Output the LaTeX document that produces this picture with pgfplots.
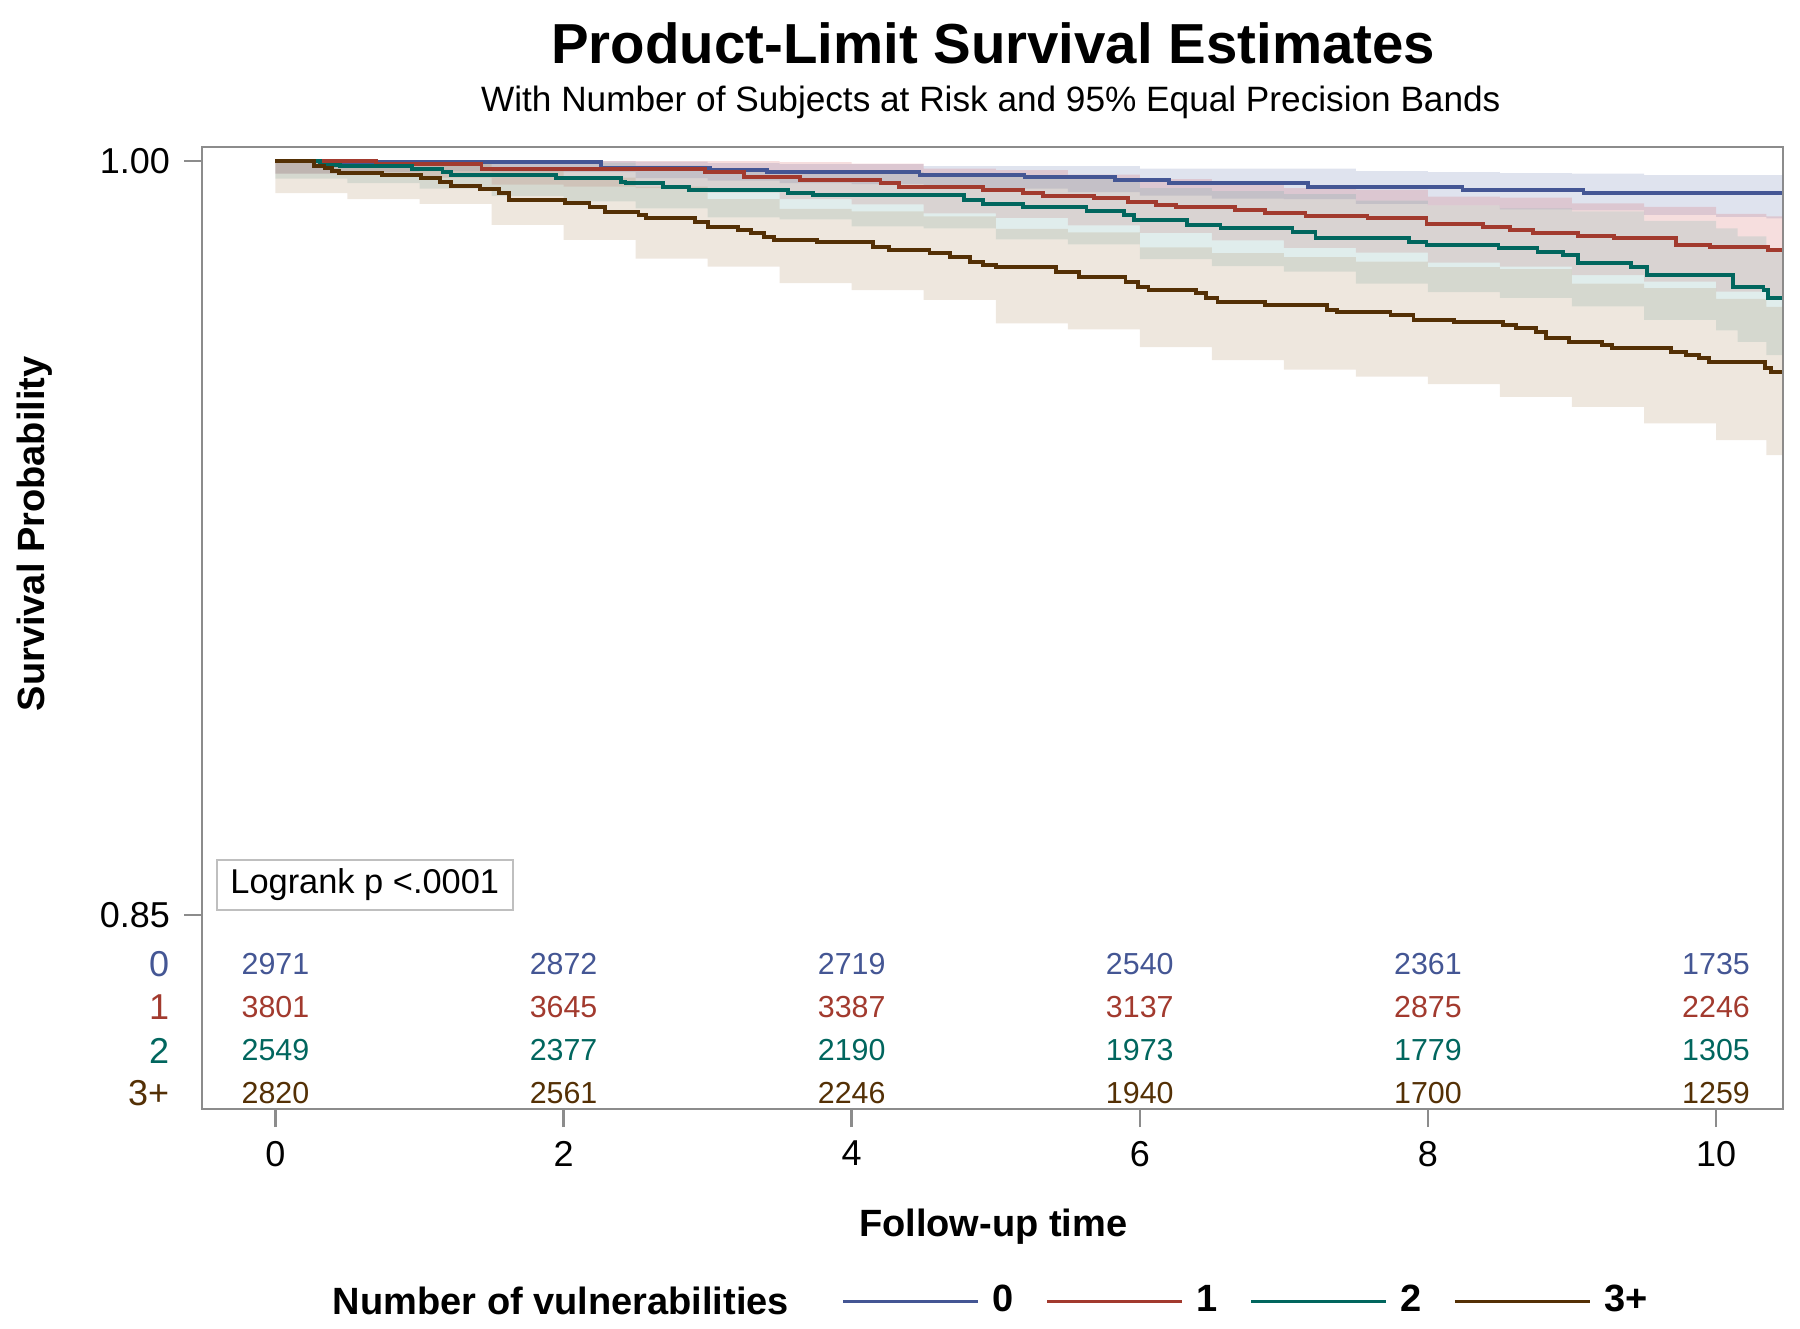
\documentclass[border=0pt]{standalone}
\usepackage{fontspec}
\setmainfont{Liberation Sans}
\usepackage{pgfplots}
\pgfplotsset{compat=1.18}
\usepackage{pgfplotstable}
\usepgfplotslibrary{fillbetween}

\definecolor{cB}{HTML}{445694}
\definecolor{cR}{HTML}{A23A2E}
\definecolor{cG}{HTML}{01665E}
\definecolor{cN}{HTML}{543005}
\definecolor{fB}{HTML}{6F7EB3}
\definecolor{fR}{HTML}{D05B5B}
\definecolor{fG}{HTML}{66A5A0}
\definecolor{fN}{HTML}{A9865B}

% ---- survival curves (time, survival) ----
\pgfplotstableread{
t S
0 1.0
0.40 0.99974
2.26 0.99867
3.02 0.99821
3.41 0.99788
4.47 0.99721
5.20 0.99680
5.83 0.99620
6.20 0.99570
7.17 0.99476
8.24 0.99423
9.08 0.99370
10.46 0.99370
}\curveB
\pgfplotstableread{
t S
0 1.0
0.70 0.99940
1.43 0.99834
2.98 0.99775
3.25 0.99688
3.64 0.99622
4.20 0.99556
4.33 0.99476
4.91 0.99423
5.19 0.99357
5.33 0.99304
5.68 0.99257
5.92 0.99191
6.11 0.99125
6.25 0.99078
6.66 0.99025
6.87 0.98959
7.15 0.98906
7.58 0.98860
7.99 0.98740
8.38 0.98694
8.57 0.98627
8.73 0.98561
9.04 0.98508
9.29 0.98462
9.72 0.98329
9.96 0.98296
10.36 0.98230
10.46 0.98230
}\curveR
\pgfplotstableread{
t S
0 1.0
0.31 0.99920
0.45 0.99900
0.95 0.99834
1.16 0.99780
1.22 0.99721
1.95 0.99655
2.40 0.99589
2.43 0.99556
2.69 0.99489
2.87 0.99423
3.56 0.99370
3.73 0.99324
4.78 0.99224
4.91 0.99140
5.19 0.99078
5.63 0.99012
5.89 0.98926
5.96 0.98826
6.33 0.98727
6.56 0.98661
7.06 0.98594
7.22 0.98462
7.87 0.98395
7.99 0.98329
8.49 0.98263
8.76 0.98196
8.94 0.98130
9.04 0.97964
9.41 0.97898
9.52 0.97732
10.12 0.97500
10.33 0.97434
10.36 0.97268
10.46 0.97268
}\curveG
\pgfplotstableread{
t S
0 1.0
0.27 0.99901
0.34 0.99854
0.39 0.99807
0.44 0.99767
0.74 0.99721
1.01 0.99655
1.14 0.99589
1.22 0.99503
1.42 0.99436
1.55 0.99370
1.62 0.99224
2.01 0.99158
2.18 0.99091
2.29 0.98992
2.52 0.98926
2.57 0.98860
2.91 0.98793
3.00 0.98694
3.21 0.98627
3.30 0.98561
3.39 0.98495
3.46 0.98428
3.76 0.98395
4.15 0.98296
4.26 0.98230
4.54 0.98163
4.68 0.98097
4.82 0.97997
4.91 0.97931
5.00 0.97898
5.42 0.97798
5.58 0.97699
5.90 0.97600
5.99 0.97500
6.06 0.97434
6.39 0.97368
6.46 0.97268
6.54 0.97202
6.87 0.97135
7.30 0.97036
7.37 0.97003
7.74 0.96936
7.90 0.96837
8.18 0.96804
8.52 0.96738
8.61 0.96671
8.75 0.96605
8.82 0.96472
8.98 0.96406
9.21 0.96340
9.28 0.96273
9.69 0.96207
9.79 0.96141
9.88 0.96075
9.95 0.96008
10.34 0.95876
10.38 0.95809
10.46 0.95809
}\curveN

% ---- equal precision bands (time, lower, upper) ----
\pgfplotstableread{
t lo hi
0 0.9975 1.0
0.5 0.9978 1.0
1 0.9980 1.0
1.5 0.9979 1.0
2 0.9978 1.0
2.5 0.9966 0.9999
3 0.9961 0.9996
3.5 0.9956 0.9994
4 0.9954 0.9994
4.5 0.9946 0.9990
5 0.9945 0.9990
5.5 0.9938 0.9990
6 0.9931 0.9985
6.5 0.9925 0.9985
7 0.9924 0.9985
7.5 0.9915 0.9980
8 0.9912 0.9978
8.5 0.9904 0.9976
9 0.9902 0.9975
9.5 0.9893 0.9972
10 0.9889 0.9972
10.35 0.9886 0.9972
10.46 0.9886 0.9972
}\bandB
\pgfplotstableread{
t lo hi
0 0.9975 1.0
0.5 0.9977 1.0
1 0.9967 1.0
1.5 0.9953 1.0
2 0.9949 1.0
2.5 0.9946 1.0
3 0.9937 1.0
3.5 0.9924 0.9998
4 0.9914 0.9995
4.5 0.9896 0.9985
5 0.9887 0.9982
5.5 0.9872 0.9973
6 0.9857 0.9964
6.5 0.9842 0.9955
7 0.9827 0.9946
7.5 0.9818 0.9943
8 0.9798 0.9929
8.5 0.9790 0.9927
9 0.9773 0.9916
9.5 0.9760 0.9909
10 0.9740 0.9895
10.35 0.9730 0.9890
10.46 0.9730 0.9890
}\bandR
\pgfplotstableread{
t lo hi
0 0.9965 1.0
0.5 0.9956 1.0
1 0.9945 1.0
1.5 0.9930 0.9999
2 0.9920 0.9997
2.5 0.9906 0.9991
3 0.9888 0.9981
3.5 0.9884 0.9980
4 0.9870 0.9978
4.5 0.9866 0.9976
5 0.9844 0.9969
5.5 0.9834 0.9964
6 0.9805 0.9946
6.5 0.9791 0.9940
7 0.9780 0.9934
7.5 0.9756 0.9921
8 0.9739 0.9912
8.5 0.9728 0.9906
9 0.9711 0.9900
9.5 0.9684 0.9881
10 0.9663 0.9866
10.15 0.9640 0.9850
10.35 0.9614 0.9825
10.46 0.9614 0.9825
}\bandG
\pgfplotstableread{
t lo hi
0 0.9936 1.0
0.5 0.9924 1.0
1 0.9915 1.0
1.5 0.9873 0.9984
2 0.9843 0.9967
2.5 0.9806 0.9949
3 0.9790 0.9924
3.5 0.9757 0.9905
4 0.9743 0.9900
4.5 0.9724 0.9890
5 0.9677 0.9865
5.5 0.9665 0.9858
6 0.9630 0.9828
6.5 0.9604 0.9817
7 0.9585 0.9809
7.5 0.9571 0.9800
8 0.9556 0.9789
8.5 0.9531 0.9785
9 0.9511 0.9756
9.5 0.9478 0.9747
10 0.9445 0.9726
10.35 0.9415 0.9710
10.46 0.9415 0.9710
}\bandN

\tikzset{risk/.style={font=\fontsize{7.6}{9}\selectfont}, rowl/.style={anchor=east, inner sep=0pt, font=\fontsize{9}{10}\selectfont}}

\begin{document}
\begin{tikzpicture}
\begin{axis}[
  at={(50.5pt,54.5pt)}, anchor=south west,
  scale only axis, width=395.25pt, height=240.5pt,
  xmin=-0.510, xmax=10.465, ymin=0.81141, ymax=1.00279,
  xtick={0,2,4,6,8,10}, xticklabels={0,2,4,6,8,10},
  ytick={0.85,1.00}, yticklabels={0.85,1.00},
  /pgf/number format/assume math mode=true,
  tick pos=left, tick align=outside, major tick length=4.5pt,
  axis line style={draw=black!45},
  tick style={draw=black!45, line width=0.6pt},
  tick label style={font=\fontsize{9}{10}\selectfont},
  clip=false,
  legend columns=4,
  legend style={at={(axis description cs:0.4039,-0.2001)}, anchor=west,
    draw=none, fill=none, inner xsep=0pt, inner ysep=0pt,
    font=\bfseries\fontsize{9.5}{11}\selectfont,
    /tikz/every odd column/.append style={column sep=1.1pt},
    /tikz/every even column/.append style={column sep=5.9pt}},
  legend image code/.code={\draw[#1, line width=0.9pt] (0pt,0pt) -- (33.8pt,0pt);},
]
% bands
\addplot[const plot, draw=none, name path=bu1, forget plot] table[x=t,y=hi]{\bandB};
\addplot[const plot, draw=none, name path=bl1, forget plot] table[x=t,y=lo]{\bandB};
\addplot[fill=fB, fill opacity=0.22, draw=none, forget plot] fill between[of=bu1 and bl1];
\addplot[const plot, draw=none, name path=bu2, forget plot] table[x=t,y=hi]{\bandR};
\addplot[const plot, draw=none, name path=bl2, forget plot] table[x=t,y=lo]{\bandR};
\addplot[fill=fR, fill opacity=0.2, draw=none, forget plot] fill between[of=bu2 and bl2];
\addplot[const plot, draw=none, name path=bu3, forget plot] table[x=t,y=hi]{\bandG};
\addplot[const plot, draw=none, name path=bl3, forget plot] table[x=t,y=lo]{\bandG};
\addplot[fill=fG, fill opacity=0.2, draw=none, forget plot] fill between[of=bu3 and bl3];
\addplot[const plot, draw=none, name path=bu4, forget plot] table[x=t,y=hi]{\bandN};
\addplot[const plot, draw=none, name path=bl4, forget plot] table[x=t,y=lo]{\bandN};
\addplot[fill=fN, fill opacity=0.2, draw=none, forget plot] fill between[of=bu4 and bl4];
% curves
\addplot[const plot, color=cB, line width=0.95pt, mark=none] table[x=t,y=S]{\curveB};
\addplot[const plot, color=cR, line width=0.95pt, mark=none] table[x=t,y=S]{\curveR};
\addplot[const plot, color=cG, line width=0.95pt, mark=none] table[x=t,y=S]{\curveG};
\addplot[const plot, color=cN, line width=0.95pt, mark=none] table[x=t,y=S]{\curveN};
\legend{0,1,2,3+}
% logrank box
\node[draw=black!25, fill=white, anchor=west, minimum width=74pt, minimum height=12.5pt, inner sep=0pt,
  font=\fontsize{8.6}{10}\selectfont] at (axis cs:-0.413,0.85597) {Logrank p <.0001};
% row labels
\node[rowl, text=cB] at (axis cs:-0.732,0.84019) {0};
\node[rowl, text=cR] at (axis cs:-0.732,0.83174) {1};
\node[rowl, text=cG] at (axis cs:-0.732,0.82306) {2};
\node[rowl, text=cN] at (axis cs:-0.732,0.81461) {3+};
% number at risk
\node[risk, text=cB] at (axis cs:0,0.84019) {2971};
\node[risk, text=cB] at (axis cs:2,0.84019) {2872};
\node[risk, text=cB] at (axis cs:4,0.84019) {2719};
\node[risk, text=cB] at (axis cs:6,0.84019) {2540};
\node[risk, text=cB] at (axis cs:8,0.84019) {2361};
\node[risk, text=cB] at (axis cs:10,0.84019) {1735};
\node[risk, text=cR] at (axis cs:0,0.83174) {3801};
\node[risk, text=cR] at (axis cs:2,0.83174) {3645};
\node[risk, text=cR] at (axis cs:4,0.83174) {3387};
\node[risk, text=cR] at (axis cs:6,0.83174) {3137};
\node[risk, text=cR] at (axis cs:8,0.83174) {2875};
\node[risk, text=cR] at (axis cs:10,0.83174) {2246};
\node[risk, text=cG] at (axis cs:0,0.82306) {2549};
\node[risk, text=cG] at (axis cs:2,0.82306) {2377};
\node[risk, text=cG] at (axis cs:4,0.82306) {2190};
\node[risk, text=cG] at (axis cs:6,0.82306) {1973};
\node[risk, text=cG] at (axis cs:8,0.82306) {1779};
\node[risk, text=cG] at (axis cs:10,0.82306) {1305};
\node[risk, text=cN] at (axis cs:0,0.81461) {2820};
\node[risk, text=cN] at (axis cs:2,0.81461) {2561};
\node[risk, text=cN] at (axis cs:4,0.81461) {2246};
\node[risk, text=cN] at (axis cs:6,0.81461) {1940};
\node[risk, text=cN] at (axis cs:8,0.81461) {1700};
\node[risk, text=cN] at (axis cs:10,0.81461) {1259};
\end{axis}
\node[font=\bfseries\fontsize{14.1}{16}\selectfont, anchor=base] at (248.3pt,316pt) {Product-Limit Survival Estimates};
\node[font=\fontsize{8.8}{10}\selectfont, anchor=base] at (247.7pt,303.9pt) {With Number of Subjects at Risk and 95\% Equal Precision Bands};
\node[font=\bfseries\fontsize{9.5}{11}\selectfont, rotate=90] at (8.6pt,198.3pt) {Survival Probability};
\node[font=\bfseries\fontsize{9.5}{11}\selectfont, anchor=base] at (248.3pt,22.65pt) {Follow-up time};
\node[font=\bfseries\fontsize{9.5}{11}\selectfont, anchor=base] at (140.25pt,3.1pt) {Number of vulnerabilities};
\path (0,0) rectangle (450pt,331.75pt);
\end{tikzpicture}
\end{document}
